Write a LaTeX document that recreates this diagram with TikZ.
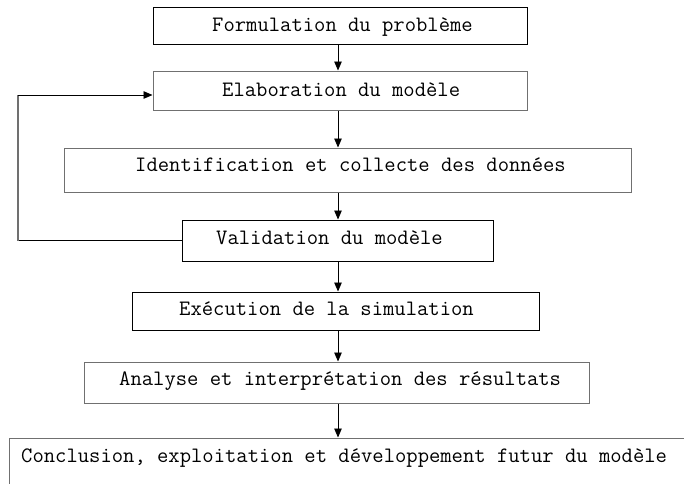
\documentclass[tikz,border=0pt]{standalone}
\usepackage{fontspec}
\usetikzlibrary{arrows.meta}
\definecolor{edgegray}{HTML}{707070}
\begin{document}
\begin{tikzpicture}[x=1pt,y=-1pt,
  box/.style={draw=black, line width=1pt, rectangle, inner sep=0pt},
  graybox/.style={box, draw=edgegray},
  lbl/.style={anchor=base west, inner sep=0pt, font=\ttfamily\fontsize{22}{24}\selectfont},
  arr/.style={draw=black, line width=0.9pt, -{Triangle[length=9pt,width=7.5pt]}},
  loopline/.style={draw=black, line width=1pt}]
\useasboundingbox (0,0) rectangle (684,483);
\clip (0,0) rectangle (684,483);
\fill[white] (0,0) rectangle (684,483);

\node[box, minimum width=374pt, minimum height=37pt] (b1) at (340,25.5) {};
\node[graybox, minimum width=374pt, minimum height=39pt] (b2) at (340,90.5) {};
\node[graybox, minimum width=567pt, minimum height=44pt] (b3) at (347.5,170) {};
\node[box, minimum width=311pt, minimum height=41pt] (b4) at (337.5,240.5) {};
\node[box, minimum width=407pt, minimum height=38pt] (b5) at (335.5,311) {};
\node[graybox, minimum width=505pt, minimum height=41pt] (b6) at (336.5,382.5) {};
\node[graybox, minimum width=691pt, minimum height=62pt] (b7) at (354.5,469) {};

\node[lbl] (t1) at (212,31) {Formulation du problème};
\node[lbl] (t2) at (222,96) {Elaboration du modèle};
\node[lbl] (t3) at (135,171) {Identification et collecte des données};
\node[lbl] (t4) at (216,244) {Validation du modèle};
\node[lbl] (t5) at (179,315) {Exécution de la simulation};
\node[lbl] (t6) at (119,385) {Analyse et interprétation des résultats};
\node[lbl] (t7) at (21,462) {Conclusion, exploitation et développement futur du modèle};

\coordinate (ax) at (338,0);
\draw[arr] (b1.south -| ax) -- (b2.north -| ax);
\draw[arr] (b2.south -| ax) -- (b3.north -| ax);
\draw[arr] (b3.south -| ax) -- (b4.north -| ax);
\draw[arr] (b4.south -| ax) -- (b5.north -| ax);
\draw[arr] (b5.south -| ax) -- (b6.north -| ax);
\draw[arr] (b6.south -| ax) -- (b7.north -| ax);

\coordinate (lx) at (18,0);
\coordinate (fb) at (0,95);
\draw[loopline] (b4.west) -- (b4.west -| lx);
\draw[draw=edgegray, line width=1.3pt] (b4.west -| lx) -- (fb -| lx);
\draw[arr] (fb -| lx) -- (fb -| b2.west);
\end{tikzpicture}
\end{document}
